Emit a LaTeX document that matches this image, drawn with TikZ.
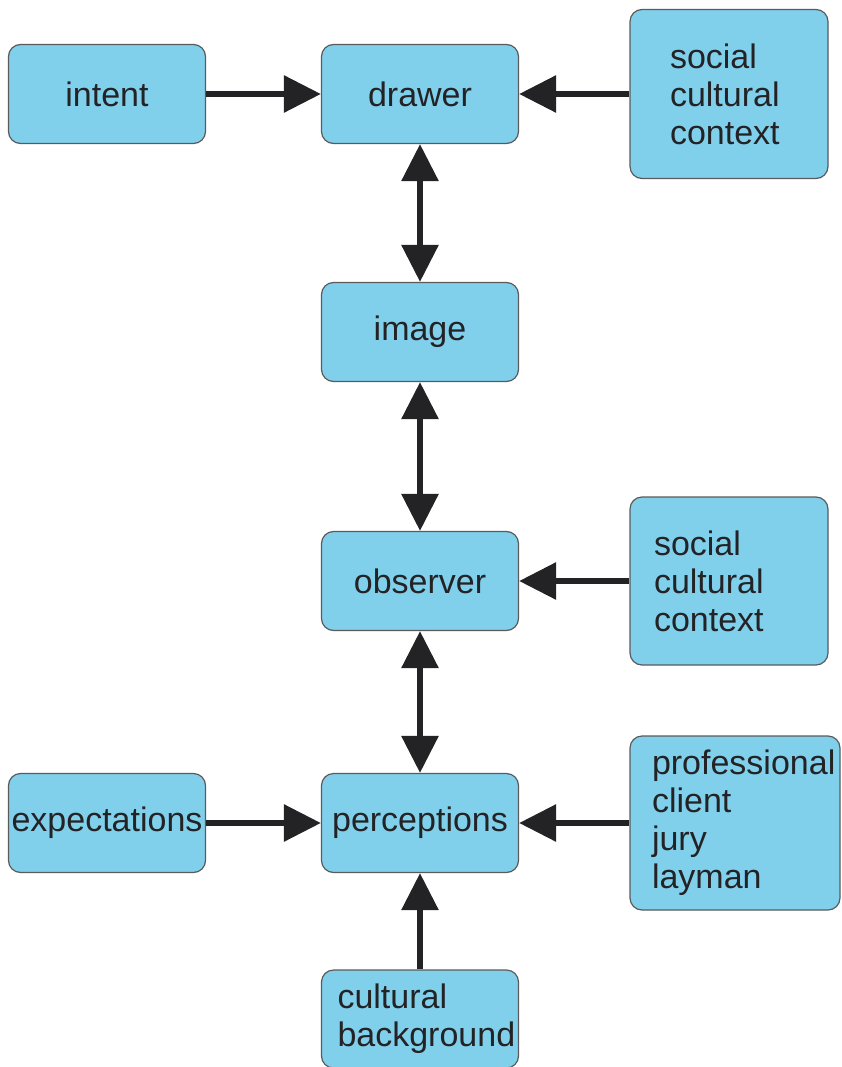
\documentclass[tikz,border=0pt]{standalone}
\usepackage{fontspec}
\setmainfont{Liberation Sans}
\usetikzlibrary{arrows.meta}
\definecolor{boxblue}{RGB}{128,208,236}
\definecolor{inkgray}{RGB}{35,35,38}
\begin{document}
\begin{tikzpicture}[x=1pt,y=-1pt,
	box/.style={draw=inkgray!75,line width=1.2pt,fill=boxblue,rounded corners=12pt,
		minimum width=197pt,minimum height=99pt,inner sep=0pt,align=left,
		text=inkgray,font=\fontsize{34}{38}\selectfont},
	link/.style={line width=6pt,draw=inkgray,-{Triangle[length=37pt,width=36pt]}},
	twoway/.style={line width=6pt,draw=inkgray,{Triangle[length=37pt,width=36pt]}-{Triangle[length=37pt,width=36pt]}}]
	%Page frame
	\useasboundingbox (0,0) rectangle (842,1067);
	%Centres of the boxes
	\coordinate (cIntent) at (107,94);
	\coordinate (cDrawer) at (420,94);
	\coordinate (cSocialTop) at (729,94);
	\coordinate (cImage) at (420,332);
	\coordinate (cObserver) at (420,581);
	\coordinate (cSocialMid) at (729,581);
	\coordinate (cExpect) at (107,823);
	\coordinate (cPercept) at (420,823);
	\coordinate (cPeople) at (735,823);
	\coordinate (cBackground) at (420,1019);
	%Boxes
	\node [box] (intent) at (cIntent) {intent};
	\node [box] (drawer) at (cDrawer) {drawer};
	\node [box,minimum height=169pt,inner xsep=40pt,text width=118pt] (socialtop) at (cSocialTop) {social\\cultural\\context};
	\node [box] (image) at (cImage) {image};
	\node [box] (observer) at (cObserver) {observer};
	\node [box,minimum height=168pt,inner xsep=24pt,text width=150pt] (socialmid) at (cSocialMid) {social\\cultural\\context};
	\node [box] (expect) at (cExpect) {expectations};
	\node [box] (percept) at (cPercept) {perceptions};
	\node [box,minimum height=174pt,inner xsep=22pt,text width=166pt] (people) at (cPeople) {professional\\client\\jury\\layman};
	\node [box,minimum height=98pt,inner xsep=16pt,text width=165pt] (background) at (cBackground) {cultural\\background};
	%Arrows into the drawer
	\draw [link] (intent) -- (drawer);
	\draw [link] (socialtop) -- (drawer);
	%Chain down the middle
	\draw [twoway] (drawer) -- (image);
	\draw [twoway] (image) -- (observer);
	\draw [twoway] (observer) -- (percept);
	\draw [link] (socialmid) -- (observer);
	%Arrows into the perceptions
	\draw [link] (expect) -- (percept);
	\draw [link] (people) -- (percept);
	\draw [link] (background) -- (percept);
\end{tikzpicture}
\end{document}
